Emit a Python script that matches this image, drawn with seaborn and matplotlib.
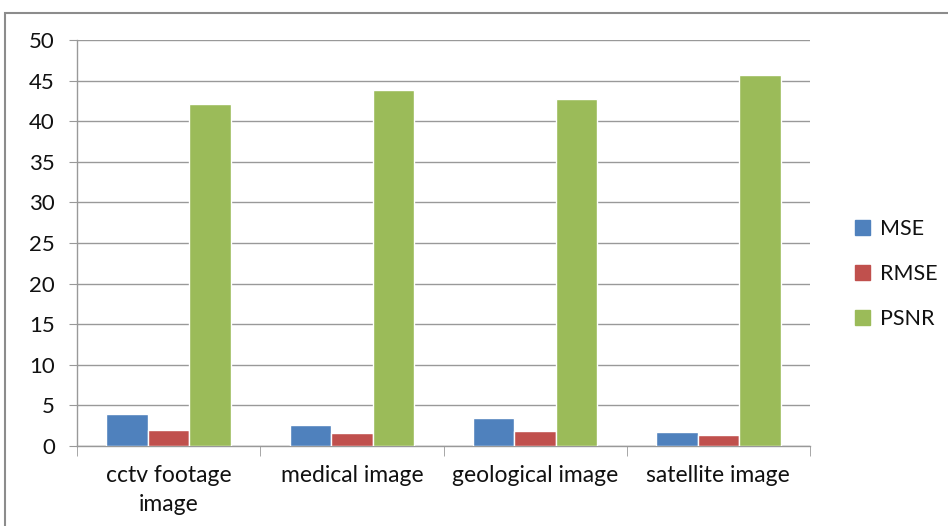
import matplotlib
matplotlib.use("Agg")
import matplotlib.pyplot as plt
import matplotlib.patches as mpatches
import pandas as pd
import seaborn as sns

categories = ["cctv footage\nimage", "medical image", "geological image", "satellite image"]
mse = [3.9, 2.6, 3.45, 1.75]
rmse = [2.0, 1.6, 1.85, 1.35]
psnr = [42.1, 43.8, 42.7, 45.7]
series_names = ["MSE", "RMSE", "PSNR"]
colors = ["#4F81BD", "#C0504D", "#9BBB59"]

# long-format table for seaborn hue grouping
df = pd.DataFrame({
    "category": categories * 3,
    "metric": ["MSE"] * 4 + ["RMSE"] * 4 + ["PSNR"] * 4,
    "value": mse + rmse + psnr,
})

sns.set_style("white")
plt.rcParams["font.family"] = ["Lato", "DejaVu Sans"]

fig = plt.figure(figsize=(9.48, 5.26), dpi=100)
ax = fig.add_axes([77 / 948, 80 / 526, 733 / 948, 406 / 526])

sns.barplot(data=df, x="category", y="value", hue="metric",
            hue_order=series_names, palette=colors, width=0.68, gap=0,
            saturation=1, ax=ax, zorder=3)

ax.set_ylim(0, 50)
ax.set_yticks(range(0, 51, 5))
ax.set_xlim(-0.5, 3.5)
ax.set_xlabel("")
ax.set_ylabel("")
ax.grid(axis="y", color="#999999", linewidth=1, zorder=0)
ax.set_axisbelow(True)

for side in ["top", "right"]:
    ax.spines[side].set_visible(False)
for side in ["left", "bottom"]:
    ax.spines[side].set_color("#999999")
    ax.spines[side].set_linewidth(1)

ax.tick_params(axis="y", length=6, color="#999999", pad=10, labelsize=16,
               labelcolor="#111111", left=True)
ax.tick_params(axis="x", length=0, pad=14, labelsize=16.5, labelcolor="#111111")
# ticks between categories
ax.set_xticks([-0.5, 0.5, 1.5, 2.5, 3.5], minor=True)
ax.tick_params(axis="x", which="minor", length=7, color="#999999", bottom=True)
for lbl in ax.get_xticklabels():
    lbl.set_linespacing(1.45)

handles = [mpatches.Patch(color=c, label=n) for c, n in zip(colors, series_names)]
ax.get_legend().remove()
fig.legend(handles=handles, loc="center left", bbox_to_anchor=(836 / 948, 1 - 274 / 526),
           frameon=False, fontsize=15.5, handlelength=0.7, handleheight=0.7,
           labelspacing=1.15, handletextpad=0.45, labelcolor="#111111")

# outer chart border
fig.patches.append(mpatches.Rectangle((5 / 948, -0.05), 1.2, 1.05 - 13 / 526,
                                      transform=fig.transFigure, fill=False,
                                      edgecolor="#8c8c8c", linewidth=1.5))

fig.savefig("out.png", dpi=100)
